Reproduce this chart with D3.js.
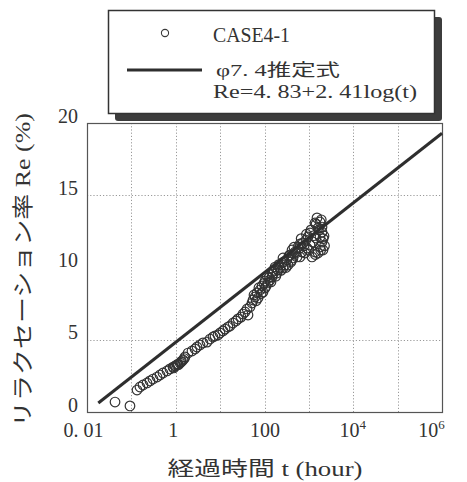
<!DOCTYPE html>
<html>
<head>
<meta charset="utf-8">
<script src="https://cdn.jsdelivr.net/npm/d3@7"></script>
<style>
  html, body { margin: 0; padding: 0; background: #fff; }
  svg { display: block; }
  .serif { font-family: "Liberation Serif", "DejaVu Serif", "Noto Sans CJK JP", serif; }
</style>
</head>
<body>
<svg id="chart" width="467" height="482"></svg>
<script>
// Measured relaxation ratio, CASE4-1: elapsed time (hours) and Re (%)
const hours = [
  0.0428, 0.093, 0.134, 0.156, 0.183, 0.225, 0.263, 0.307, 0.378, 0.442,
  0.516, 0.635, 0.741, 0.867, 0.961, 1.07, 1.12, 1.25, 1.31, 1.46,
  1.61, 1.89, 2.32, 2.72, 3.01, 3.52, 4.11, 5.06, 5.92, 6.90,
  7.67, 8.95, 9.93, 11.6, 12.9, 15.0, 16.7, 19.5, 22.8, 25.3,
  29.5, 32.7, 36.4, 42.5, 40.4, 47.1, 52.2, 55.1, 61.1, 67.8,
  71.4, 79.2, 87.9, 92.5, 103, 103, 114, 120, 133, 148,
  148, 156, 173, 191, 201, 223, 248, 261, 261, 290,
  321, 339, 376, 395, 417, 439, 487, 540, 569, 631,
  631, 700, 738, 818, 861, 908, 955, 1059, 1059, 1175,
  1239, 1374, 1374, 1448, 1524, 1607, 1607, 1782, 1782, 1782,
  1977, 1977, 1977, 2080, 2193,
  0.90, 1.00, 1.15, 1.35, 1.55,
  58, 65, 75, 84, 97, 108, 126, 140, 163, 180,
  210, 235, 275, 305, 355, 410, 460, 510, 600, 670,
  780, 880, 990, 1120, 1290, 1450, 1700, 1900, 2100, 2250,
  1850, 1400
];
const reValues = [
  0.69, 0.42, 1.52, 1.73, 1.87, 2.01, 2.15, 2.28, 2.42, 2.56,
  2.70, 2.84, 2.98, 3.11, 3.18, 3.25, 3.32, 3.39, 3.46, 3.60,
  3.81, 4.08, 4.22, 4.36, 4.50, 4.64, 4.78, 4.84, 5.05, 5.19,
  5.26, 5.33, 5.47, 5.61, 5.74, 5.88, 5.95, 6.16, 6.30, 6.44,
  6.57, 6.78, 6.92, 6.71, 7.13, 7.27, 7.54, 7.75, 7.96, 8.24,
  7.89, 8.44, 8.72, 8.30, 9.07, 8.58, 9.41, 8.93, 9.13, 9.34,
  9.69, 9.55, 10.03, 9.62, 9.83, 9.97, 10.31, 9.97, 10.66, 10.17,
  10.52, 10.17, 10.87, 10.38, 11.21, 10.66, 11.07, 10.73, 11.42, 10.73,
  11.63, 11.07, 11.70, 11.00, 11.90, 11.35, 12.11, 12.39, 11.56, 10.73,
  11.76, 11.07, 13.08, 12.04, 13.43, 12.73, 11.00, 13.15, 12.11, 11.42,
  12.80, 12.46, 11.76, 11.21, 12.18,
  3.05, 3.20, 3.28, 3.50, 3.70,
  8.1, 7.7, 8.6, 8.2, 8.9, 8.7, 9.3, 9.0, 9.8, 9.4,
  10.2, 9.8, 10.4, 10.0, 10.8, 10.5, 11.4, 11.0, 11.3, 12.0,
  11.5, 12.3, 11.2, 12.6, 12.2, 13.0, 12.6, 13.3, 12.0, 11.5,
  11.2, 10.9
];

// Estimation formula for φ7.4: Re = 4.83 + 2.41 log(t)
const fitIntercept = 4.83;
const fitSlope = 2.41;
const fitHours = [0.018, 1e6];

// Axis ticks
const xTickValues = [0.01, 1, 100, 1e4, 1e6];
const xGridValues = [0.1, 1, 10, 100, 1000, 1e4, 1e5];
const yTickValues = [0, 5, 10, 15, 20];
const yGridValues = [5, 15];

const svg = d3.select("#chart");
const plot = { left: 87, right: 442, top: 123, bottom: 412 };

const x = d3.scaleLog().domain([0.01, 1e6]).range([plot.left, plot.right]);
const y = d3.scaleLinear().domain([0, 20]).range([plot.bottom, plot.top]);

// Gridlines (dotted)
const grid = svg.append("g").attr("stroke", "#9a9a9a").attr("stroke-width", 1)
  .attr("stroke-dasharray", "1.2,2");
grid.selectAll("line.v").data(xGridValues).join("line")
  .attr("class", "v")
  .attr("x1", d => Math.round(x(d)) + 0.5).attr("x2", d => Math.round(x(d)) + 0.5)
  .attr("y1", plot.top).attr("y2", plot.bottom);
grid.selectAll("line.h").data(yGridValues).join("line")
  .attr("class", "h")
  .attr("y1", d => Math.round(y(d)) + 0.5).attr("y2", d => Math.round(y(d)) + 0.5)
  .attr("x1", plot.left).attr("x2", plot.right);

// Plot frame
svg.append("rect")
  .attr("x", plot.left + 0.5).attr("y", plot.top + 0.5)
  .attr("width", plot.right - plot.left).attr("height", plot.bottom - plot.top)
  .attr("fill", "none").attr("stroke", "#555").attr("stroke-width", 1.2);

// Measured points (open circles)
const points = hours.map((t, i) => ({ t, re: reValues[i] }));
svg.append("g").selectAll("circle").data(points).join("circle")
  .attr("cx", d => x(d.t)).attr("cy", d => y(d.re)).attr("r", 4.8)
  .attr("fill", "none").attr("stroke", "#333").attr("stroke-width", 1.2);

// Estimation line
const fitLine = d3.line().x(d => x(d)).y(d => y(fitIntercept + fitSlope * Math.log10(d)));
svg.append("path").datum(fitHours).attr("d", fitLine)
  .attr("fill", "none").attr("stroke", "#2e2e2e").attr("stroke-width", 3);

// Y axis labels
const yAxis = d3.axisLeft(y).tickValues(yTickValues).tickSize(0).tickPadding(0);
const yG = svg.append("g").attr("transform", "translate(78,0)").call(yAxis);
yG.select(".domain").remove();
yG.selectAll("text").attr("class", "serif").attr("font-size", 20)
  .attr("fill", "#333").attr("dy", "-0.05em");

// X axis labels
const xAxis = d3.axisBottom(x).tickValues(xTickValues).tickSize(0).tickPadding(0)
  .tickFormat(() => "");
const xG = svg.append("g").attr("transform", "translate(0,437)").call(xAxis);
xG.select(".domain").remove();
const xNudge = [-4, -3, 0, -1, -11];
xG.selectAll("text").each(function (d, i) {
  const t = d3.select(this).attr("class", "serif").attr("font-size", 20)
    .attr("fill", "#333").attr("dy", 0).attr("dx", xNudge[i]);
  const e = Math.round(Math.log10(d));
  if (d === 0.01) t.text("0. 01");
  else if (e <= 2) t.text(String(d));
  else {
    t.append("tspan").text("10");
    t.append("tspan").attr("font-size", 13).attr("dy", -8).text(String(e));
  }
});

// Axis titles
svg.append("text").attr("class", "serif")
  .attr("x", 265).attr("y", 476).attr("text-anchor", "middle")
  .attr("font-size", 20).attr("fill", "#333")
  .attr("textLength", 195).attr("lengthAdjust", "spacingAndGlyphs")
  .text("経過時間 t (hour)");

svg.append("text").attr("class", "serif")
  .attr("transform", "translate(30,270) rotate(-90)")
  .attr("text-anchor", "middle")
  .attr("font-size", 21).attr("fill", "#333")
  .attr("textLength", 314).attr("lengthAdjust", "spacingAndGlyphs")
  .text("リラクセーション率 Re (%)");

// Legend box with drop shadow
const legend = svg.append("g");
legend.append("rect").attr("x", 115).attr("y", 17).attr("width", 327).attr("height", 104)
  .attr("rx", 3).attr("fill", "#3c3c3c");
legend.append("rect").attr("x", 108.5).attr("y", 10.5).attr("width", 326).attr("height", 103)
  .attr("fill", "#fff").attr("stroke", "#333").attr("stroke-width", 1.5);
legend.append("circle").attr("cx", 165).attr("cy", 33).attr("r", 3.6)
  .attr("fill", "none").attr("stroke", "#3a3a3a").attr("stroke-width", 1.1);
legend.append("line").attr("x1", 127).attr("x2", 202).attr("y1", 70).attr("y2", 70)
  .attr("stroke", "#2e2e2e").attr("stroke-width", 3);
legend.append("text").attr("class", "serif").attr("x", 213).attr("y", 42)
  .attr("font-size", 21).attr("fill", "#333")
  .attr("textLength", 77).attr("lengthAdjust", "spacingAndGlyphs").text("CASE4-1");
legend.append("text").attr("class", "serif").attr("x", 216).attr("y", 76)
  .attr("font-size", 17).attr("fill", "#333")
  .attr("textLength", 124).attr("lengthAdjust", "spacingAndGlyphs").text("φ7. 4推定式");
legend.append("text").attr("class", "serif").attr("x", 213).attr("y", 98)
  .attr("font-size", 19).attr("fill", "#333")
  .attr("textLength", 204).attr("lengthAdjust", "spacingAndGlyphs").text("Re=4. 83+2. 41log(t)");
</script>
</body>
</html>
